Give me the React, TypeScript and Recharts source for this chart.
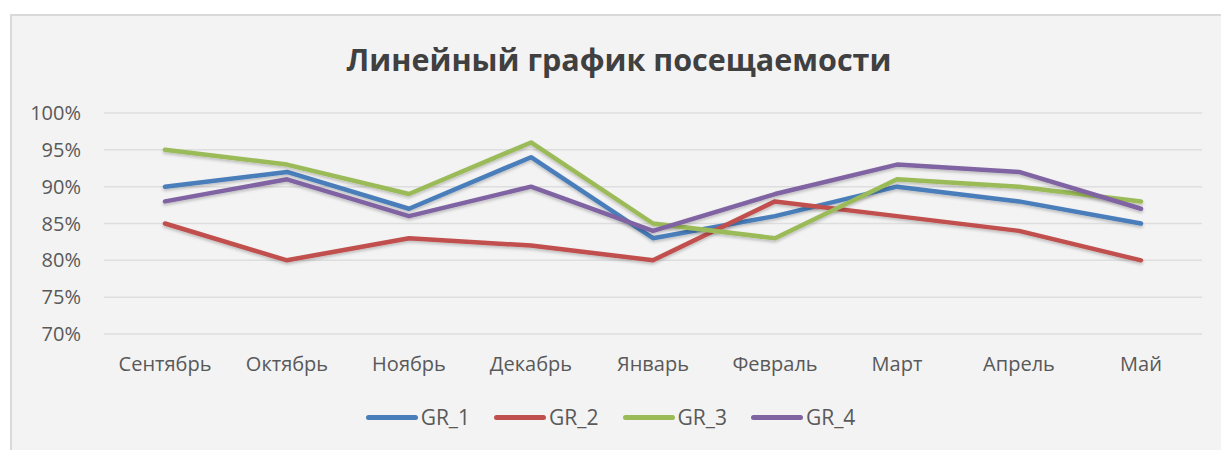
import { CartesianGrid, Line, LineChart, XAxis, YAxis } from 'recharts';

// Линейный график посещаемости по группам, сентябрь–май (%).

const months = ['Сентябрь', 'Октябрь', 'Ноябрь', 'Декабрь', 'Январь', 'Февраль', 'Март', 'Апрель', 'Май'];
const gr1 = [90, 92, 87, 94, 83, 86, 90, 88, 85];
const gr2 = [85, 80, 83, 82, 80, 88, 86, 84, 80];
const gr3 = [95, 93, 89, 96, 85, 83, 91, 90, 88];
const gr4 = [88, 91, 86, 90, 84, 89, 93, 92, 87];
const yTicks = [70, 75, 80, 85, 90, 95, 100];

const series = [
  { id: 'GR_1', color: '#4a7ebb', values: gr1 },
  { id: 'GR_2', color: '#c0504d', values: gr2 },
  { id: 'GR_3', color: '#9bbb59', values: gr3 },
  { id: 'GR_4', color: '#8064a2', values: gr4 },
];

const data = months.map((m, i) => {
  const row: Record<string, string | number> = { month: m };
  for (const s of series) row[s.id] = s.values[i];
  return row;
});

const FONT = '"Open Sans", "Noto Sans", sans-serif';

export default function App() {
  return (
    <div style={{ position: 'absolute', left: 0, top: 0, width: 1221, height: 450, background: '#fff', overflow: 'hidden', fontFamily: FONT }}>
      <div
        style={{
          position: 'absolute',
          left: 10,
          top: 14,
          width: 1230,
          height: 460,
          background: '#f3f3f3',
          border: '2px solid #d9d9d9',
        }}
      />
      <div
        style={{
          position: 'absolute',
          left: 0,
          width: 1238,
          top: 38,
          textAlign: 'center',
          fontSize: 30.5,
          fontWeight: 700,
          color: '#404040',
        }}
      >
        Линейный график посещаемости
      </div>
      <div style={{ position: 'absolute', left: 0, top: 0 }}>
        <LineChart width={1221} height={450} data={data} margin={{ top: 113, right: 19, bottom: 86, left: 44 }}>
          <defs>
            <filter id="lineShadow" x="-5%" y="-20%" width="110%" height="140%">
              <feDropShadow dx="0" dy="2" stdDeviation="1.6" floodColor="#000" floodOpacity="0.22" />
            </filter>
          </defs>
          <CartesianGrid vertical={false} stroke="#dedede" strokeWidth={1.5} />
          <XAxis
            dataKey="month"
            padding={{ left: 61, right: 61 }}
            axisLine={false}
            tickLine={false}
            tickMargin={17}
            height={30}
            interval={0}
            tick={{ fill: '#595959', fontSize: 20, fontFamily: FONT }}
          />
          <YAxis
            domain={[70, 100]}
            ticks={yTicks}
            width={60}
            axisLine={false}
            tickLine={false}
            tickMargin={17}
            tickFormatter={(v: number) => `${v}%`}
            tick={{ fill: '#595959', fontSize: 20, fontFamily: FONT }}
          />
          {series.map((s) => (
            <Line
              key={s.id}
              dataKey={s.id}
              stroke={s.color}
              strokeWidth={4.5}
              strokeLinecap="round"
              strokeLinejoin="round"
              filter="url(#lineShadow)"
              dot={false}
              activeDot={false}
              type="linear"
              isAnimationActive={false}
            />
          ))}
        </LineChart>
      </div>
      <div
        style={{
          position: 'absolute',
          left: 0,
          width: 1221,
          top: 403,
          display: 'flex',
          justifyContent: 'center',
          gap: 24,
        }}
      >
        {series.map((s) => (
          <div key={s.id} style={{ display: 'flex', alignItems: 'center', gap: 3 }}>
            <div style={{ width: 52, height: 5, borderRadius: 3, background: s.color }} />
            <span style={{ fontSize: 21, color: '#595959' }}>{s.id}</span>
          </div>
        ))}
      </div>
    </div>
  );
}
